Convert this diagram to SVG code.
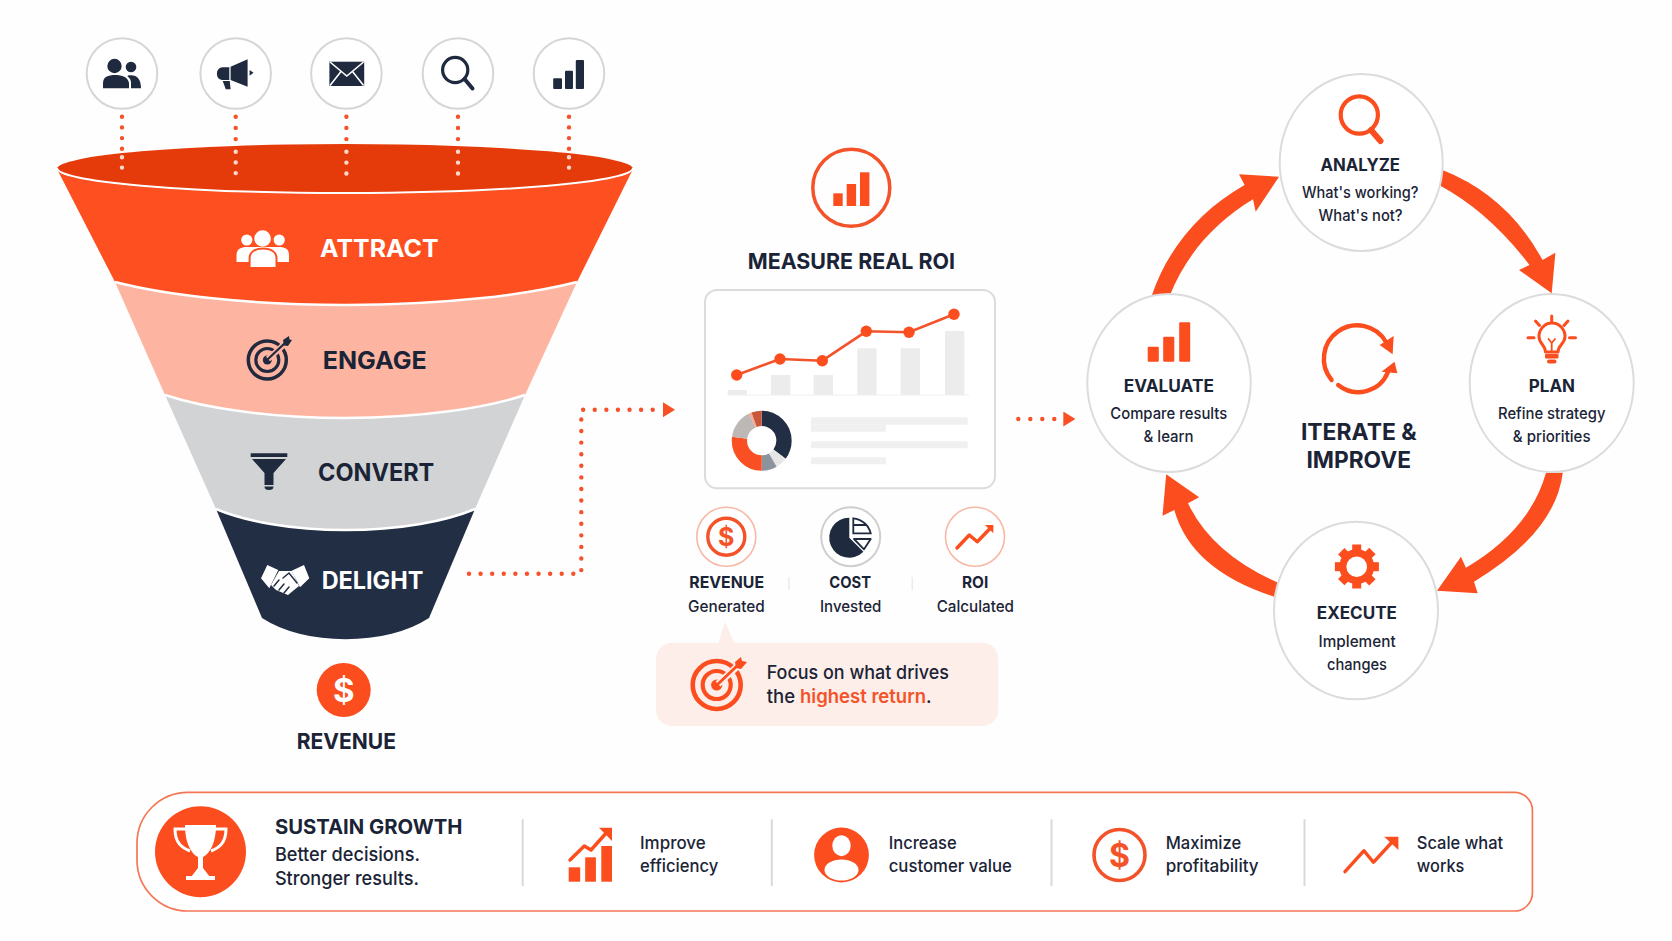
<svg xmlns="http://www.w3.org/2000/svg" width="1672" height="941" viewBox="0 0 1672 941">
<defs>
<marker id="tri1" markerUnits="userSpaceOnUse" markerWidth="12" markerHeight="15" refX="0" refY="7.5" orient="auto"><path d="M0,0 L12,7.5 L0,15 Z" fill="#f94f22"/></marker>
</defs>
<style>
text{font-family:"Inter","Liberation Sans",sans-serif;fill:#1b2436}
.h{font-weight:700}
.r{font-weight:450}
.w{fill:#fff}
.o{fill:#fb4d1e}
.n{fill:#1f2a3f}
.sep{stroke:#fff;stroke-width:2.5;fill:none}
.ic{fill:#fff;stroke:#d6d6d6;stroke-width:2}
.dot{fill:none;stroke:#f5512a;stroke-width:4.4;stroke-linecap:round}
.dotp{fill:none;stroke:#fbd9cc;stroke-width:4.4;stroke-linecap:round}
.cy{fill:#fff;stroke:#dcdcdc;stroke-width:2}
.ol{fill:none;stroke:#fb4d1e;stroke-linecap:round;stroke-linejoin:round}
.nl{fill:none;stroke:#1f2a3f;stroke-linecap:round;stroke-linejoin:round}
.bar{fill:#ececec}
.div{stroke:#d9d9d9;stroke-width:2}
.seg{fill:none;stroke-width:15.3}
</style>
<rect width="1672" height="941" fill="#fefefe"/>

<g id="funnel-delight">
<path d="M216,509 L262,618 A108,58 0 0 0 429,618 L475,509 Z" fill="#222e44"/>
<path d="M261,578.3 L267.3,565 L278.3,570 L269.3,588.3 Z M309.3,578.3 L304,565 L291.7,570.7 L300,587.3 Z" fill="#fff"/>
<path d="M279,571 L292,571 L299,586 L288,595 L276,590 L271,585 Z" fill="#fff"/>
<path d="M283,578 L289,573 L297,583 M274,586 L279,580 M279,590 L284,584 M284,593 L289,587" fill="none" stroke="#222e44" stroke-width="1.5" stroke-linecap="round"/>
<text class="h w" x="321.7" y="589.3" font-size="24" textLength="101.6" lengthAdjust="spacingAndGlyphs">DELIGHT</text>
</g>
<g id="funnel-convert">
<path d="M165,395 L216,509 A168,58 0 0 0 475,509 L525,395 Z" fill="#d1d3d5"/>
<path class="sep" d="M216,509 A168,58 0 0 0 475,509"/>
<path class="n" d="M250.7,453.3 H287.3 V457 H250.7 Z M252,459 H286 L273.5,473 V485 H264.5 V473 Z M264.5,486.5 H273.5 A4.5,3.5 0 0 1 264.5,486.5 Z"/>
<text class="h" x="318" y="481" font-size="24" textLength="116.3" lengthAdjust="spacingAndGlyphs">CONVERT</text>
</g>
<g id="funnel-engage">
<path d="M115,282 L165,395 A234,63.5 0 0 0 525,395 L577,282 Z" fill="#fdb5a1"/>
<path class="sep" d="M165,395 A234,63.5 0 0 0 525,395"/>
<circle class="nl" cx="267.3" cy="360" r="19" stroke-width="3.5"/>
<circle class="nl" cx="267.3" cy="360" r="11.5" stroke-width="3.2"/>
<circle class="n" cx="267.3" cy="360" r="4.5"/>
<path d="M268,359 L288,341" stroke="#fdb5a1" stroke-width="6" fill="none"/>
<path class="nl" d="M268,359 L285,343" stroke-width="2.2"/>
<path class="n" d="M283,340 L289,336 L289.5,339.5 L292,340 L288,346 L284,345.5 Z"/>
<text class="h" x="322.7" y="369" font-size="24" textLength="104" lengthAdjust="spacingAndGlyphs">ENGAGE</text>
</g>
<g id="funnel-attract">
<path d="M57,169 L115,282 A300,63.5 0 0 0 577,282 L633,169 Z" fill="#fd4f1f"/>
<path class="sep" d="M115,282 A300,63.5 0 0 0 577,282"/>
<ellipse cx="345" cy="169" rx="288" ry="25" fill="#e53b0b"/>
<path d="M57,168 A288,25 0 0 0 633,168" fill="none" stroke="#fff" stroke-width="2"/>
<circle cx="246.8" cy="240" r="5.6" fill="#fff"/>
<circle cx="279.2" cy="240" r="5.6" fill="#fff"/>
<path d="M236.5,262 V255 C236.5,249 241,247 247,247 H279 C285,247 289,249 289,255 V262 Z" fill="#fff"/>
<circle cx="262.6" cy="238.5" r="8.3" fill="#fff"/>
<path d="M249.6,268 V258 C249.6,252 255,248.5 263,248.5 C271,248.5 276.5,252 276.5,258 V268 Z" fill="#fff" stroke="#fd4f1f" stroke-width="2"/>
<text class="h w" x="320" y="257" font-size="24" textLength="118.6" lengthAdjust="spacingAndGlyphs">ATTRACT</text>
</g>

<g id="connectors">
<path class="dot" stroke-dasharray="0 10.7" d="M122,116.7 V149.5"/>
<path class="dotp" stroke-dasharray="0 10.3" d="M122,157.3 V168"/>
<path class="dot" stroke-dasharray="0 11.2" d="M235.7,116.7 V140"/>
<path class="dotp" stroke-dasharray="0 10.7" d="M235.7,151.7 V173.5"/>
<path class="dot" stroke-dasharray="0 11.2" d="M346.4,116.7 V140"/>
<path class="dotp" stroke-dasharray="0 10.9" d="M346.4,151.7 V174"/>
<path class="dot" stroke-dasharray="0 11.2" d="M458,116.7 V140"/>
<path class="dotp" stroke-dasharray="0 10.9" d="M458,151.7 V174"/>
<path class="dot" stroke-dasharray="0 10.7" d="M569,116.7 V149.5"/>
<path class="dotp" stroke-dasharray="0 10.3" d="M569,157.3 V168"/>
<path class="dot" stroke-dasharray="0 11.59" d="M469,573.7 H581.3 V409.7 H663" marker-end="url(#tri1)"/>
<path class="dot" stroke-dasharray="0 12" d="M1018.3,419 H1063.3" marker-end="url(#tri1)"/>
<path class="o" d="M1152,295 C1167,250 1200,210 1244.6,185 L1239,174.3 L1279,176.7 L1255.7,211.7 L1253,199.3 C1215,222 1186,255 1170,295 Z"/>
<path class="o" d="M1442.6,170 Q1508,196 1542.5,260 L1555.4,252.7 L1551.7,293.3 L1519,270 L1529.5,265 Q1489,212 1440.7,186 Z"/>
<path class="o" d="M1562.8,472.7 Q1555.4,532.8 1474,581.7 L1477.7,593.3 L1437,590.7 L1461,556.7 L1465.9,567.7 Q1530,530 1546,472.7 Z"/>
<path class="o" d="M1277.9,582.7 Q1211.9,553.6 1188,503.3 L1199.1,497.3 L1166.2,474.3 L1162.5,515.7 L1174.3,510 Q1191,570 1274.2,596.7 Z"/>
</g>

<g id="source-people">
<circle class="ic" cx="122" cy="73.5" r="35.3"/>
<circle class="n" cx="114.5" cy="66" r="7.2"/>
<path class="n" d="M103,88.3 V83 C103,77 108,75 115,75 C122,75 128,77 129,83 V88.3 Z"/>
<circle class="n" cx="131" cy="67" r="5.3"/>
<path class="n" d="M128,75.5 C136,74 141,78 141,88.3 H131 V83 C131,80 130,78 127.5,76.5 Z"/>
</g>
<g id="source-megaphone">
<circle class="ic" cx="235.7" cy="73.5" r="35.3"/>
<path class="n" d="M230.6,66.7 L247.6,59.3 V86.7 L230.6,80 Z M229.3,67.3 V80 H222 A6.5,6.5 0 0 1 222,67.3 Z M222.7,81 H229.8 L230.6,89.3 H225.8 Z M249.6,70 L253.5,72.7 L249.6,75.7 Z"/>
</g>
<g id="source-email">
<circle class="ic" cx="346.4" cy="73.5" r="35.3"/>
<rect class="n" x="329.4" y="61.7" width="34.8" height="24.3"/>
<path d="M330,62 L346.8,76 L363.6,62 M330,85.5 L341,71.5 M363.6,85.5 L352.5,71.5" fill="none" stroke="#fff" stroke-width="1.6"/>
</g>
<g id="source-search">
<circle class="ic" cx="458" cy="73.5" r="35.3"/>
<circle class="nl" cx="455.2" cy="70" r="12.6" stroke-width="3.2"/>
<path class="nl" d="M464.5,79 L472.5,88.5" stroke-width="4"/>
</g>
<g id="source-analytics">
<circle class="ic" cx="569" cy="73.5" r="35.3"/>
<rect class="n" x="553.2" y="78.3" width="8.8" height="10.7" rx="1"/>
<rect class="n" x="565" y="70.7" width="8" height="18.3" rx="1"/>
<rect class="n" x="575.8" y="60" width="8.2" height="29" rx="1"/>
</g>

<g id="revenue">
<circle class="o" cx="343.7" cy="690" r="27"/>
<text class="h w" x="343.7" y="702" font-size="33" text-anchor="middle">$</text>
<text class="h" x="296.7" y="749.3" font-size="22" textLength="99.3" lengthAdjust="spacingAndGlyphs">REVENUE</text>
</g>

<g id="measure-roi">
<circle cx="851.3" cy="187.7" r="38.5" fill="none" stroke="#f4532a" stroke-width="3.5"/>
<rect class="o" x="833.3" y="193.3" width="9.4" height="12.7"/>
<rect class="o" x="846.7" y="184" width="9.4" height="22"/>
<rect class="o" x="860" y="172.3" width="9.4" height="33.7"/>
<text class="h" x="747.7" y="269" font-size="22" textLength="207.3" lengthAdjust="spacingAndGlyphs">MEASURE REAL ROI</text>
</g>

<g id="dashboard-card">
<rect x="705" y="290" width="290" height="198.3" rx="12" fill="#fff" stroke="#dcdcdc" stroke-width="2"/>
<rect class="bar" x="727.7" y="390" width="19.3" height="5"/>
<rect class="bar" x="771" y="375" width="19.3" height="20"/>
<rect class="bar" x="813.7" y="375" width="19.3" height="20"/>
<rect class="bar" x="857.3" y="348.3" width="19.3" height="46.7"/>
<rect class="bar" x="900.7" y="348.3" width="19.3" height="46.7"/>
<rect class="bar" x="945" y="331" width="19.3" height="64"/>
<path d="M727.7,395 H969.3" stroke="#efefef" stroke-width="1"/>
<path d="M736.7,375 L780,359 L822.3,360.7 L866.3,331.3 L909,332.3 L954,314.3" fill="none" stroke="#f4532a" stroke-width="2.6"/>
<circle class="o" cx="736.7" cy="375" r="5.7"/>
<circle class="o" cx="780" cy="359" r="5.7"/>
<circle class="o" cx="822.3" cy="360.7" r="5.7"/>
<circle class="o" cx="866.3" cy="331.3" r="5.7"/>
<circle class="o" cx="909" cy="332.3" r="5.7"/>
<circle class="o" cx="954" cy="314.3" r="5.7"/>
<g transform="rotate(-90 761.7 440.7)">
<circle class="seg" cx="761.7" cy="440.7" r="22.3" pathLength="360" stroke="#222e44" stroke-dasharray="127 233"/>
<circle class="seg" cx="761.7" cy="440.7" r="22.3" pathLength="360" stroke="#e6e6e6" stroke-dasharray="23 337" stroke-dashoffset="-127"/>
<circle class="seg" cx="761.7" cy="440.7" r="22.3" pathLength="360" stroke="#8c939c" stroke-dasharray="30 330" stroke-dashoffset="-150"/>
<circle class="seg" cx="761.7" cy="440.7" r="22.3" pathLength="360" stroke="#f94f22" stroke-dasharray="98 262" stroke-dashoffset="-180"/>
<circle class="seg" cx="761.7" cy="440.7" r="22.3" pathLength="360" stroke="#bdb8b5" stroke-dasharray="57 303" stroke-dashoffset="-278"/>
<circle class="seg" cx="761.7" cy="440.7" r="22.3" pathLength="360" stroke="#f9a98f" stroke-dasharray="5 355" stroke-dashoffset="-335"/>
<circle class="seg" cx="761.7" cy="440.7" r="22.3" pathLength="360" stroke="#c9573b" stroke-dasharray="20 340" stroke-dashoffset="-340"/>
</g>
<rect class="bar" x="811" y="417.3" width="156.7" height="7.4" style="fill:#f0f0f0"/>
<rect class="bar" x="811" y="424.7" width="75" height="7" style="fill:#f0f0f0"/>
<rect class="bar" x="811" y="441.3" width="156.7" height="7" style="fill:#f0f0f0"/>
<rect class="bar" x="811" y="457.3" width="75" height="7" style="fill:#f0f0f0"/>
</g>

<g id="metric-revenue">
<circle cx="726.3" cy="536.7" r="29.5" fill="#fff" stroke="#f7b9a5" stroke-width="1.6"/>
<circle cx="726.3" cy="536.7" r="18.5" fill="none" stroke="#f4532a" stroke-width="3.4"/>
<text class="h" x="726.3" y="545.5" font-size="25" text-anchor="middle" style="fill:#f4532a">$</text>
<text class="h" x="689.3" y="588.3" font-size="16" textLength="74.7" lengthAdjust="spacingAndGlyphs">REVENUE</text>
<text class="r" x="688" y="611.7" font-size="16" textLength="76.7" lengthAdjust="spacingAndGlyphs">Generated</text>
</g>
<path d="M789,577 V590 M912.3,577 V590" stroke="#ececec" stroke-width="1.5"/>
<g id="metric-cost">
<circle cx="850.7" cy="536.7" r="29.5" fill="#fff" stroke="#cfcfcf" stroke-width="2"/>
<path class="n" d="M849.3,537.7 V517.7 A20,20 0 1 0 863.4,551.8 Z"/>
<path d="M853.3,518.3 A20,20 0 0 1 870.7,533.3 H853.3 Z M853.3,525 H866.5" fill="#fff" stroke="#1f2a3f" stroke-width="1.8"/>
<path d="M854,539 H870.7 L864,549.3 Z" fill="#fff" stroke="#1f2a3f" stroke-width="1.8" stroke-linejoin="round"/>
<text class="h" x="829.3" y="588.3" font-size="16" textLength="41.7" lengthAdjust="spacingAndGlyphs">COST</text>
<text class="r" x="820" y="611.7" font-size="16" textLength="61.3" lengthAdjust="spacingAndGlyphs">Invested</text>
</g>
<g id="metric-roi">
<circle cx="975" cy="536.7" r="29.5" fill="#fff" stroke="#f7b9a5" stroke-width="1.6"/>
<path class="ol" d="M957,548 L969.3,535 L977.3,541.7 L991.5,527" stroke-width="3.4"/>
<path class="o" d="M985,525 H993.3 V533.3 Z"/>
<text class="h" x="962" y="588.3" font-size="16" textLength="26.3" lengthAdjust="spacingAndGlyphs">ROI</text>
<text class="r" x="936.7" y="611.7" font-size="16" textLength="77.3" lengthAdjust="spacingAndGlyphs">Calculated</text>
</g>

<g id="callout">
<path d="M718.3,643 L725,621.7 L734.3,643 Z" fill="#fdeee9"/>
<rect x="656" y="642.7" width="342.3" height="83.3" rx="16" fill="#fdeee9"/>
<circle class="ol" cx="716.7" cy="685" r="24" stroke-width="4.6"/>
<circle class="ol" cx="716.7" cy="685" r="14" stroke-width="4.2"/>
<circle class="o" cx="716.7" cy="685" r="5.6"/>
<path d="M718,684 L741,663" stroke="#fdeee9" stroke-width="7" fill="none"/>
<path class="ol" d="M718,684 L738,665" stroke-width="2.8"/>
<path class="o" d="M735,662 L741,657 L742,661 L747,662 L741,669 L736,668 Z"/>
<text class="r" x="766.7" y="679.3" font-size="19" textLength="182.3" lengthAdjust="spacingAndGlyphs">Focus on what drives</text>
<text class="r" x="766.7" y="703.3" font-size="19" textLength="165" lengthAdjust="spacingAndGlyphs">the <tspan font-weight="600" style="fill:#f4532a">highest return</tspan>.</text>
</g>

<g id="cycle-analyze">
<ellipse class="cy" cx="1361.2" cy="162.5" rx="81.5" ry="88.5"/>
<circle class="ol" cx="1359.3" cy="115" r="18.6" stroke-width="4.2"/>
<path class="ol" d="M1371,130 L1380.5,141" stroke-width="6"/>
<text class="h" x="1320.5" y="171" font-size="17" textLength="79.5" lengthAdjust="spacingAndGlyphs">ANALYZE</text>
<text class="r" x="1302" y="197.7" font-size="16" textLength="116.5" lengthAdjust="spacingAndGlyphs">What's working?</text>
<text class="r" x="1318.6" y="221" font-size="16" textLength="84" lengthAdjust="spacingAndGlyphs">What's not?</text>
</g>
<g id="cycle-plan">
<ellipse class="cy" cx="1551.7" cy="383" rx="82" ry="89"/>
<path class="ol" d="M1545.5,352 C1545.5,345 1539,344 1539,336.5 A13,13.5 0 1 1 1565,336.5 C1565,344 1558,345 1558,352 Z" stroke-width="3"/>
<path class="ol" d="M1548.5,339 L1551.7,343 L1555,339 M1551.7,343 V351" stroke-width="1.8"/>
<rect class="o" x="1545" y="354" width="13.5" height="4.5" rx="1"/>
<rect class="o" x="1547" y="359.5" width="9.5" height="4" rx="2"/>
<path class="ol" d="M1551.7,316 V321.5 M1535.5,321 L1539.5,325.5 M1568,321 L1564,325.5 M1528,337.7 H1534 M1569.5,337.7 H1575.5" stroke-width="3"/>
<text class="h" x="1528.8" y="391.7" font-size="17" textLength="46.2" lengthAdjust="spacingAndGlyphs">PLAN</text>
<text class="r" x="1498" y="419.3" font-size="16" textLength="107.4" lengthAdjust="spacingAndGlyphs">Refine strategy</text>
<text class="r" x="1512.8" y="442.3" font-size="16" textLength="77.7" lengthAdjust="spacingAndGlyphs">&amp; priorities</text>
</g>
<g id="cycle-execute">
<ellipse class="cy" cx="1356" cy="610.5" rx="82" ry="88.8"/>
<g class="o">
<rect x="1352.2" y="544.5" width="9" height="44"/>
<rect x="1352.2" y="544.5" width="9" height="44" transform="rotate(45 1356.7 566.7)"/>
<rect x="1352.2" y="544.5" width="9" height="44" transform="rotate(90 1356.7 566.7)"/>
<rect x="1352.2" y="544.5" width="9" height="44" transform="rotate(135 1356.7 566.7)"/>
<circle cx="1356.7" cy="566.7" r="17.5"/>
</g>
<circle cx="1356.7" cy="566.7" r="10.3" fill="#fff"/>
<text class="h" x="1316.8" y="619.3" font-size="17" textLength="80.2" lengthAdjust="spacingAndGlyphs">EXECUTE</text>
<text class="r" x="1318.6" y="646.7" font-size="16" textLength="77" lengthAdjust="spacingAndGlyphs">Implement</text>
<text class="r" x="1327" y="670" font-size="16" textLength="60" lengthAdjust="spacingAndGlyphs">changes</text>
</g>
<g id="cycle-evaluate">
<ellipse class="cy" cx="1169" cy="383" rx="81.7" ry="89"/>
<rect class="o" x="1147.7" y="346.7" width="11.1" height="15" rx="1"/>
<rect class="o" x="1163.2" y="336.7" width="11.1" height="25" rx="1"/>
<rect class="o" x="1179.2" y="322.3" width="11" height="39.4" rx="1"/>
<text class="h" x="1123.7" y="391.7" font-size="17" textLength="90.2" lengthAdjust="spacingAndGlyphs">EVALUATE</text>
<text class="r" x="1110.3" y="419.3" font-size="16" textLength="116.9" lengthAdjust="spacingAndGlyphs">Compare results</text>
<text class="r" x="1143.6" y="442.3" font-size="16" textLength="50" lengthAdjust="spacingAndGlyphs">&amp; learn</text>
</g>
<g id="cycle-center">
<path class="ol" d="M1331.6,380 A33.3,33.3 0 1 1 1386,342" stroke-width="4.4" stroke-linecap="butt"/>
<path class="o" d="M1379.7,345 L1393.7,336 L1392.6,354.3 Z"/>
<path class="ol" d="M1338.2,385 A32,32 0 0 0 1388,372" stroke-width="4.4" stroke-linecap="butt"/>
<path class="o" d="M1381.5,371.7 L1394.5,361.7 L1397.4,373.3 Z"/>
<text class="h" x="1300.9" y="440" font-size="23" textLength="115.8" lengthAdjust="spacingAndGlyphs">ITERATE &amp;</text>
<text class="h" x="1306.4" y="468" font-size="23" textLength="104.6" lengthAdjust="spacingAndGlyphs">IMPROVE</text>
</g>

<g id="sustain-panel">
<path d="M188,792.3 H1514.4 A18,18 0 0 1 1532.4,810.3 V893 A18,18 0 0 1 1514.4,911 H188 A51,51 0 0 1 137,860 V843.3 A51,51 0 0 1 188,792.3 Z" fill="#fff" stroke="#f47654" stroke-width="1.7"/>
<path class="div" d="M522.7,819.3 V886 M771.8,819.3 V886 M1051.5,819.3 V886 M1304.5,819.3 V886" fill="none"/>
</g>
<g id="sustain-growth">
<circle class="o" cx="200.5" cy="851.7" r="45.5"/>
<path d="M185,825 H216 C216,845 208,855 203,857 V868 L210,877 H191 L198,868 V857 C193,855 185,845 185,825 Z M186,876 H215 V880 H186 Z" fill="#fff"/>
<path d="M186,829 H175 C175,843 182,848 190,851 M215,829 H226 C226,843 219,848 211,851" fill="none" stroke="#fff" stroke-width="3"/>
<text class="h" x="274.9" y="834.3" font-size="20" textLength="187.5" lengthAdjust="spacingAndGlyphs">SUSTAIN GROWTH</text>
<text class="r" x="274.9" y="861" font-size="19" textLength="145.1" lengthAdjust="spacingAndGlyphs">Better decisions.</text>
<text class="r" x="274.9" y="885" font-size="19" textLength="144.1" lengthAdjust="spacingAndGlyphs">Stronger results.</text>
</g>
<g id="benefit-efficiency">
<rect class="o" x="568.7" y="867.3" width="11.5" height="14.4"/>
<rect class="o" x="585.2" y="857.3" width="10.7" height="24.4"/>
<rect class="o" x="601.3" y="846" width="10.7" height="35.7"/>
<path class="ol" d="M570,860 L584.3,846 L591,850 L608,831" stroke-width="3.4"/>
<path class="o" d="M599,827.7 H612 V841 Z"/>
<text class="r" x="640" y="849.3" font-size="17.5" textLength="65.7" lengthAdjust="spacingAndGlyphs">Improve</text>
<text class="r" x="640" y="872.3" font-size="17.5" textLength="78.2" lengthAdjust="spacingAndGlyphs">efficiency</text>
</g>
<g id="benefit-customer">
<circle class="o" cx="841.5" cy="855" r="27.4"/>
<ellipse cx="841.5" cy="845.7" rx="9.2" ry="10.5" fill="#fff"/>
<ellipse cx="841.5" cy="870" rx="17" ry="10.5" fill="#fff"/>
<text class="r" x="888.7" y="849.3" font-size="17.5" textLength="68" lengthAdjust="spacingAndGlyphs">Increase</text>
<text class="r" x="888.7" y="872.3" font-size="17.5" textLength="123.2" lengthAdjust="spacingAndGlyphs">customer value</text>
</g>
<g id="benefit-profit">
<circle cx="1119.5" cy="855" r="25.5" fill="none" stroke="#f4532a" stroke-width="3.6"/>
<text class="h" x="1119.5" y="866.5" font-size="32" text-anchor="middle" style="fill:#f4532a">$</text>
<text class="r" x="1165.7" y="849.3" font-size="17.5" textLength="75.6" lengthAdjust="spacingAndGlyphs">Maximize</text>
<text class="r" x="1165.7" y="872.3" font-size="17.5" textLength="93" lengthAdjust="spacingAndGlyphs">profitability</text>
</g>
<g id="benefit-scale">
<path class="ol" d="M1345,871.7 L1364,850.7 L1373.4,862.3 L1394,840" stroke-width="3.4"/>
<path class="o" d="M1384.2,836.7 H1398.4 V850 Z"/>
<text class="r" x="1416.8" y="849.3" font-size="17.5" textLength="86.4" lengthAdjust="spacingAndGlyphs">Scale what</text>
<text class="r" x="1416.8" y="872.3" font-size="17.5" textLength="47.6" lengthAdjust="spacingAndGlyphs">works</text>
</g>
</svg>
